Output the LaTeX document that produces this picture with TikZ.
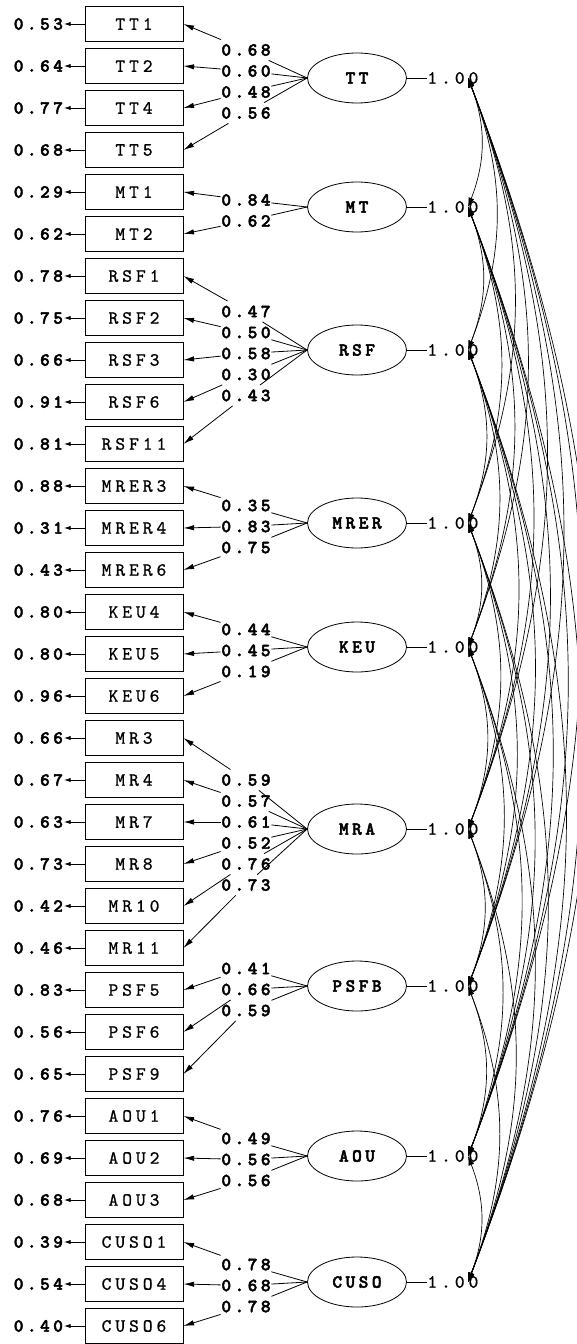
\documentclass[tikz,border=0pt]{standalone}
\usepackage{fontspec}
\usetikzlibrary{arrows.meta,shapes.geometric}
\newfontfamily\regf[LetterSpace=21,FakeBold=0.9]{lmmono10-regular.otf}
\newfontfamily\boldf[LetterSpace=19,FakeBold=2.5]{lmmonolt10-bold.otf}
\begin{document}
\begin{tikzpicture}[x=0.75pt,y=-0.75pt,
  line width=0.6pt,
  regtxt/.style={font=\regf\fontsize{14}{16}\selectfont},
  boldtxt/.style={font=\boldf\fontsize{13.8}{16}\selectfont},
  obs/.style={draw, rectangle, minimum width=73.5pt, minimum height=26.25pt, inner sep=0pt, regtxt},
  errlab/.style={anchor=east, inner sep=0.5pt, boldtxt},
  latent/.style={draw, ellipse, minimum width=74.25pt, minimum height=37.5pt, inner sep=0pt, boldtxt},
  loadlab/.style={minimum width=37.5pt, minimum height=15pt, inner sep=0pt, boldtxt},
  varlab/.style={anchor=west, inner sep=0pt, regtxt},
  errarrow/.style={-{Latex[length=5pt,width=3.2pt]}},
  loadarrow/.style={-{Latex[length=8pt,width=4pt]}},
  corarrow/.style={{Latex[length=7pt,width=4.5pt]}-{Latex[length=7pt,width=4.5pt]}, line width=0.5pt}
]
\useasboundingbox (0,0) rectangle (576,1344);
% observed indicators with error variances
\foreach \i/\t/\e in {0/TT1/0.53,1/TT2/0.64,2/TT4/0.77,3/TT5/0.68,
  4/MT1/0.29,5/MT2/0.62,
  6/RSF1/0.78,7/RSF2/0.75,8/RSF3/0.66,9/RSF6/0.91,10/RSF11/0.81,
  11/MRER3/0.88,12/MRER4/0.31,13/MRER6/0.43,
  14/KEU4/0.80,15/KEU5/0.80,16/KEU6/0.96,
  17/MR3/0.66,18/MR4/0.67,19/MR7/0.63,20/MR8/0.73,21/MR10/0.42,22/MR11/0.46,
  23/PSF5/0.83,24/PSF6/0.56,25/PSF9/0.65,
  26/AOU1/0.76,27/AOU2/0.69,28/AOU3/0.68,
  29/CUSO1/0.39,30/CUSO4/0.54,31/CUSO6/0.40}{
  \node[obs] (b\i) at (134,{24+42*\i}) {\t};
  \node[errlab] (e\i) at (64,{24+42*\i}) {\e};
  \draw[errarrow] (b\i.west) -- (e\i.east);
}
% latent variables, loadings, variances
\foreach \k/\n/\y/\f/\c/\L in {0/TT/78/0/4/{0.68,0.60,0.48,0.56},
  1/MT/207/4/2/{0.84,0.62},
  2/RSF/350/6/5/{0.47,0.50,0.58,0.30,0.43},
  3/MRER/523/11/3/{0.35,0.83,0.75},
  4/KEU/647/14/3/{0.44,0.45,0.19},
  5/MRA/829/17/6/{0.59,0.57,0.61,0.52,0.76,0.73},
  6/PSFB/986/23/3/{0.41,0.66,0.59},
  7/AOU/1156/26/3/{0.49,0.56,0.56},
  8/CUSO/1282/29/3/{0.78,0.68,0.78}}{
  \node[latent] (lat\k) at (357,\y) {\n};
  \node[varlab] (v\k) at (427,\y) {1.00};
  \draw (lat\k.east) -- (v\k.west);
  \coordinate (c\k) at (468,\y);
  \foreach \v [count=\j from 0] in \L {
    \pgfmathtruncatemacro\bi{\f+\j}
    \node[loadlab] (ld\k-\j) at (246,{\y+3.5+(\j-(\c-1)/2)*21}) {\v};
    \draw (lat\k.west) -- (ld\k-\j);
    \draw[loadarrow] (ld\k-\j) -- (b\bi.east);
  }
}
% correlations between latent variables
\foreach \a in {0,...,7}{
  \pgfmathtruncatemacro\s{\a+1}
  \foreach \b in {\s,...,8}{
    \draw[corarrow] (c\a) to[out=-69,in=69] (c\b);
  }
}
\end{tikzpicture}
\end{document}
